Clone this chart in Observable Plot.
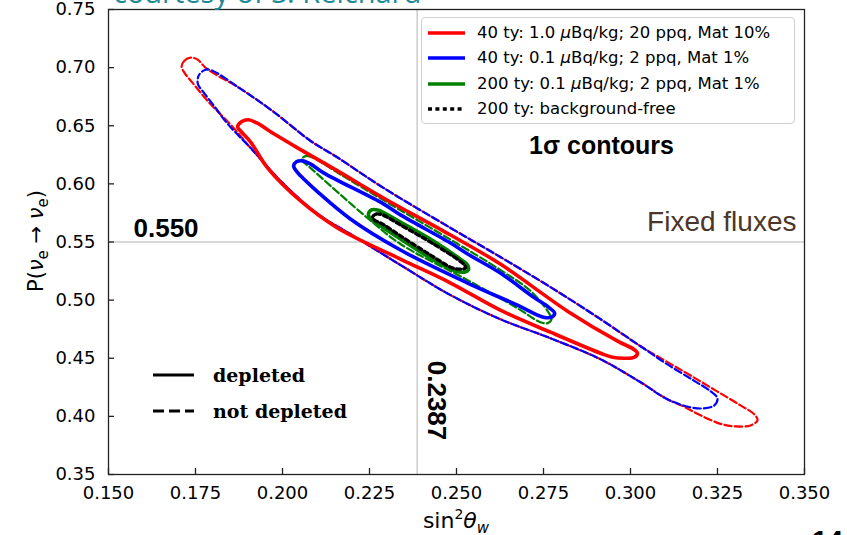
<!DOCTYPE html>
<html>
<head>
<meta charset="utf-8">
<script src="https://cdn.jsdelivr.net/npm/d3@7"></script>
<script src="https://cdn.jsdelivr.net/npm/@observablehq/plot@0.6"></script>
<style>
  html, body { margin: 0; padding: 0; background: #fff; overflow: hidden; }
  #wrap { position: relative; width: 847px; height: 535px; }
  .courtesy { position: absolute; left: 113px; top: -23px; font: 29px "Open Sans", sans-serif; line-height: 1; color: #1f8a96; white-space: nowrap; }
  .page { position: absolute; left: 812px; top: 527px; font: bold 28px "Liberation Sans", sans-serif; line-height: 1; color: #000; }
  .legend { position: absolute; left: 421px; top: 17px; width: 372px; height: 105px; border: 1px solid #cfcfcf; border-radius: 4px; background: rgba(255,255,255,0.85); font: 16.5px "DejaVu Sans", sans-serif; color: #000; }
  .legend .row, .dep .row { position: absolute; left: 0; height: 20px; white-space: nowrap; }
  .legend svg, .dep svg { position: absolute; top: 0; }
  .legend span.t { position: absolute; left: 55px; top: 0; line-height: 20px; }
  .dep { position: absolute; left: 150px; top: 363px; width: 220px; height: 60px; font: bold 19px "DejaVu Serif", serif; color: #000; }
  .dep span.t { position: absolute; left: 63px; top: 0; line-height: 22px; }
</style>
</head>
<body>
<div id="wrap">
  <div class="courtesy">courtesy of S. Reichard</div>
  <div id="chart"></div>
  <div class="legend" id="legend"></div>
  <div class="dep" id="dep"></div>
  <div class="page">14</div>
</div>
<script>
// Axis ticks
const xTicks = [0.150, 0.175, 0.200, 0.225, 0.250, 0.275, 0.300, 0.325, 0.350];
const yTicks = [0.35, 0.40, 0.45, 0.50, 0.55, 0.60, 0.65, 0.70, 0.75];

// Reference values (Standard Model weak mixing angle and fixed survival probability)
const refSin2 = 0.2387;
const refP = 0.550;

// 1-sigma contours, [sin^2 theta_w, P(nu_e -> nu_e)]
// 40 ty, 1.0 uBq/kg, 20 ppq, Mat 10% -- not depleted
const red40Dashed = [
  [0.1710, 0.7009], [0.1718, 0.7060], [0.1736, 0.7086], [0.1756, 0.7069], [0.1782, 0.6991],
  [0.1879, 0.6819], [0.1974, 0.6621], [0.2080, 0.6371], [0.2155, 0.6233], [0.2290, 0.5966],
  [0.2483, 0.5621], [0.2626, 0.5371], [0.2770, 0.5112], [0.2914, 0.4836], [0.3029, 0.4603],
  [0.3152, 0.4388], [0.3244, 0.4224], [0.3316, 0.4095], [0.3356, 0.4017], [0.3365, 0.3966],
  [0.3345, 0.3922], [0.3302, 0.3914], [0.3264, 0.3931], [0.3201, 0.4009], [0.3152, 0.4086],
  [0.3106, 0.4147], [0.3029, 0.4293], [0.2914, 0.4491], [0.2770, 0.4672], [0.2626, 0.4836],
  [0.2483, 0.5043], [0.2339, 0.5302], [0.2195, 0.5569], [0.2101, 0.5741], [0.2003, 0.6000],
  [0.1908, 0.6310], [0.1859, 0.6483], [0.1784, 0.6716], [0.1741, 0.6871], [0.1718, 0.6957]
];
// 40 ty, 1.0 uBq/kg, 20 ppq, Mat 10% -- depleted
const red40Solid = [
  [0.1871, 0.6491], [0.1882, 0.6534], [0.1902, 0.6552], [0.1925, 0.6526], [0.1980, 0.6422],
  [0.2043, 0.6310], [0.2158, 0.6112], [0.2290, 0.5879], [0.2483, 0.5560], [0.2626, 0.5310],
  [0.2819, 0.4905], [0.2963, 0.4647], [0.3009, 0.4578], [0.3020, 0.4543], [0.3011, 0.4509],
  [0.2986, 0.4500], [0.2948, 0.4509], [0.2914, 0.4543], [0.2770, 0.4724], [0.2626, 0.4914],
  [0.2483, 0.5147], [0.2339, 0.5353], [0.2158, 0.5621], [0.2052, 0.5853], [0.1957, 0.6138],
  [0.1908, 0.6362], [0.1879, 0.6457]
];
// 40 ty, 0.1 uBq/kg, 2 ppq, Mat 1% -- not depleted
const blue40Dashed = [
  [0.1756, 0.6871], [0.1759, 0.6931], [0.1773, 0.6974], [0.1790, 0.6983], [0.1879, 0.6819],
  [0.1974, 0.6621], [0.2080, 0.6371], [0.2155, 0.6233], [0.2290, 0.5966], [0.2483, 0.5621],
  [0.2626, 0.5371], [0.2770, 0.5112], [0.2914, 0.4836], [0.3029, 0.4603], [0.3101, 0.4457],
  [0.3181, 0.4310], [0.3230, 0.4216], [0.3250, 0.4155], [0.3241, 0.4095], [0.3210, 0.4069],
  [0.3172, 0.4078], [0.3106, 0.4147], [0.3029, 0.4293], [0.2914, 0.4491], [0.2770, 0.4672],
  [0.2626, 0.4836], [0.2483, 0.5043], [0.2339, 0.5302], [0.2195, 0.5569], [0.2101, 0.5741],
  [0.2003, 0.6000], [0.1908, 0.6310], [0.1842, 0.6517], [0.1805, 0.6664], [0.1776, 0.6776],
  [0.1759, 0.6845]
];
// 40 ty, 0.1 uBq/kg, 2 ppq, Mat 1% -- depleted
const blue40Solid = [
  [0.2032, 0.6155], [0.2040, 0.6190], [0.2057, 0.6198], [0.2080, 0.6172], [0.2118, 0.6095],
  [0.2290, 0.5828], [0.2339, 0.5733], [0.2483, 0.5491], [0.2532, 0.5397], [0.2626, 0.5233],
  [0.2721, 0.5026], [0.2764, 0.4940], [0.2782, 0.4888], [0.2773, 0.4853], [0.2750, 0.4853],
  [0.2675, 0.4957], [0.2532, 0.5147], [0.2339, 0.5431], [0.2195, 0.5698], [0.2101, 0.5931],
  [0.2052, 0.6069], [0.2037, 0.6121]
];
// 200 ty, 0.1 uBq/kg, 2 ppq, Mat 1% -- not depleted
const green200Dashed = [
  [0.2055, 0.6216], [0.2069, 0.6241], [0.2089, 0.6224], [0.2167, 0.6080], [0.2290, 0.5860],
  [0.2483, 0.5520], [0.2626, 0.5260], [0.2713, 0.5078], [0.2762, 0.4905], [0.2773, 0.4836],
  [0.2762, 0.4802], [0.2741, 0.4810], [0.2675, 0.4931], [0.2532, 0.5172], [0.2339, 0.5483],
  [0.2244, 0.5707], [0.2138, 0.5983], [0.2080, 0.6138], [0.2057, 0.6198]
];
// 200 ty, 0.1 uBq/kg, 2 ppq, Mat 1% -- depleted
const green200Solid = [
  [0.2247, 0.5741], [0.2256, 0.5776], [0.2273, 0.5776], [0.2339, 0.5672], [0.2434, 0.5509],
  [0.2511, 0.5353], [0.2532, 0.5302], [0.2534, 0.5259], [0.2523, 0.5241], [0.2497, 0.5250],
  [0.2425, 0.5362], [0.2339, 0.5526], [0.2282, 0.5638], [0.2253, 0.5698]
];
// 200 ty, background-free
const black200Free = [
  [0.2259, 0.5716], [0.2270, 0.5741], [0.2287, 0.5733], [0.2339, 0.5647], [0.2434, 0.5483],
  [0.2506, 0.5345], [0.2523, 0.5302], [0.2526, 0.5276], [0.2514, 0.5267], [0.2489, 0.5276],
  [0.2425, 0.5388], [0.2339, 0.5552], [0.2287, 0.5655], [0.2264, 0.5690]
];

// Legend entries
const seriesLabels = [
  {color: "#ff0000", dash: null, label: "40 ty: 1.0 <i>μ</i>Bq/kg; 20 ppq, Mat 10%"},
  {color: "#0000ff", dash: null, label: "40 ty: 0.1 <i>μ</i>Bq/kg; 2 ppq, Mat 1%"},
  {color: "#008000", dash: null, label: "200 ty: 0.1 <i>μ</i>Bq/kg; 2 ppq, Mat 1%"},
  {color: "#000000", dash: "4,3.4", label: "200 ty: background-free"}
];
const styleLabels = [
  {dash: null, label: "depleted"},
  {dash: "11,5", label: "not depleted"}
];

const px = d => d[0], py = d => d[1];
const contour = (data, stroke, opts) =>
  Plot.line(data, {x: px, y: py, curve: "catmull-rom-closed", stroke, ...opts});

const dashed = {strokeWidth: 2.2, strokeDasharray: "7.4,3.2"};
const solid = {strokeWidth: 3.6};

const chart = Plot.plot({
  width: 847,
  height: 535,
  marginTop: 9,
  marginBottom: 61,
  marginLeft: 108,
  marginRight: 43,
  style: {fontFamily: "DejaVu Sans, sans-serif", fontSize: "18px", color: "#000", background: "#fff"},
  x: {domain: [0.15, 0.35], ticks: xTicks, tickFormat: ".3f", tickSize: 0, tickPadding: 12, label: null},
  y: {domain: [0.35, 0.75], ticks: yTicks, tickFormat: ".2f", tickSize: 0, tickPadding: 13, label: null},
  marks: [
    Plot.ruleX([refSin2], {stroke: "#cccccc", strokeWidth: 1.5}),
    Plot.ruleY([refP], {stroke: "#cccccc", strokeWidth: 1.5}),
    contour(red40Dashed, "#ff0000", dashed),
    contour(blue40Dashed, "#0000ff", {...dashed, strokeDashoffset: 5.3}),
    contour(green200Dashed, "#008000", dashed),
    contour(red40Solid, "#ff0000", solid),
    contour(blue40Solid, "#0000ff", solid),
    contour(green200Solid, "#008000", solid),
    contour(black200Free, "#000000", {strokeWidth: 3.4, strokeDasharray: "4,3.4"}),
    Plot.text([refP], {y: d => d, frameAnchor: "left", dx: 25, dy: -13, textAnchor: "start",
      text: d => d.toFixed(3), fontFamily: "Liberation Sans, Arial, sans-serif", fontWeight: "bold", fontSize: 26, fill: "#000"}),
    Plot.text([refSin2], {x: d => d, frameAnchor: "bottom", dx: 11, dy: -74, rotate: 90,
      text: d => d.toFixed(4), fontFamily: "Liberation Sans, Arial, sans-serif", fontWeight: "bold", fontSize: 26, fill: "#000"}),
    Plot.text(["1σ contours"], {frameAnchor: "top-right", dx: -203, dy: 127, textAnchor: "middle",
      text: d => d, fontFamily: "Liberation Sans, Arial, sans-serif", fontWeight: "bold", fontSize: 25, fill: "#000"}),
    Plot.text(["Fixed fluxes"], {frameAnchor: "right", dx: -8, dy: -20, textAnchor: "end",
      text: d => d, fontFamily: "Liberation Sans, Arial, sans-serif", fontSize: 28, fill: "#4b3628"}),
    // inward tick marks on the bottom and left spines
    Plot.ruleX(xTicks, {x: d => d, insetTop: 459, stroke: "#222", strokeWidth: 1.3}),
    Plot.ruleY(yTicks, {y: d => d, insetRight: 690, stroke: "#222", strokeWidth: 1.3}),
    Plot.frame({stroke: "#222", strokeWidth: 1.3})
  ]
});
document.getElementById("chart").append(chart);

// Axis titles with subscripts
const svg = d3.select(chart);
const xt = svg.append("text")
  .attr("x", 456).attr("y", 528).attr("text-anchor", "middle")
  .attr("font-family", "DejaVu Sans, sans-serif").attr("font-size", 22).attr("fill", "#000");
xt.append("tspan").text("sin");
xt.append("tspan").attr("font-size", 14).attr("dy", -9).text("2");
xt.append("tspan").attr("font-style", "italic").attr("dy", 9).text("θ");
xt.append("tspan").attr("font-style", "italic").attr("font-size", 15).attr("dy", 5).text("w");

const yt = svg.append("text")
  .attr("transform", "translate(43,241) rotate(-90)").attr("text-anchor", "middle")
  .attr("font-family", "DejaVu Sans, sans-serif").attr("font-size", 21).attr("fill", "#000");
yt.append("tspan").text("P(");
yt.append("tspan").attr("font-style", "italic").text("ν");
yt.append("tspan").attr("font-size", 15).attr("dy", 5).text("e");
yt.append("tspan").attr("dy", -5).text(" → ");
yt.append("tspan").attr("font-style", "italic").text("ν");
yt.append("tspan").attr("font-size", 15).attr("dy", 5).text("e");
yt.append("tspan").attr("dy", -5).text(")");

// Series legend (upper right)
const leg = document.getElementById("legend");
seriesLabels.forEach((s, i) => {
  const row = document.createElement("div");
  row.className = "row";
  row.style.top = (5 + i * 25.3) + "px";
  row.innerHTML = `<svg width="50" height="20" style="left:5px"><line x1="1" x2="38" y1="10" y2="10" stroke="${s.color}" stroke-width="3.5" ${s.dash ? `stroke-dasharray="${s.dash}"` : ""}/></svg><span class="t">${s.label}</span>`;
  leg.append(row);
});

// Line-style legend (lower left)
const dep = document.getElementById("dep");
styleLabels.forEach((s, i) => {
  const row = document.createElement("div");
  row.className = "row";
  row.style.top = (1 + i * 36) + "px";
  row.innerHTML = `<svg width="50" height="22" style="left:3px"><line x1="0" x2="41" y1="11" y2="11" stroke="#000" stroke-width="3" ${s.dash ? `stroke-dasharray="${s.dash}"` : ""}/></svg><span class="t">${s.label}</span>`;
  dep.append(row);
});
</script>
</body>
</html>
